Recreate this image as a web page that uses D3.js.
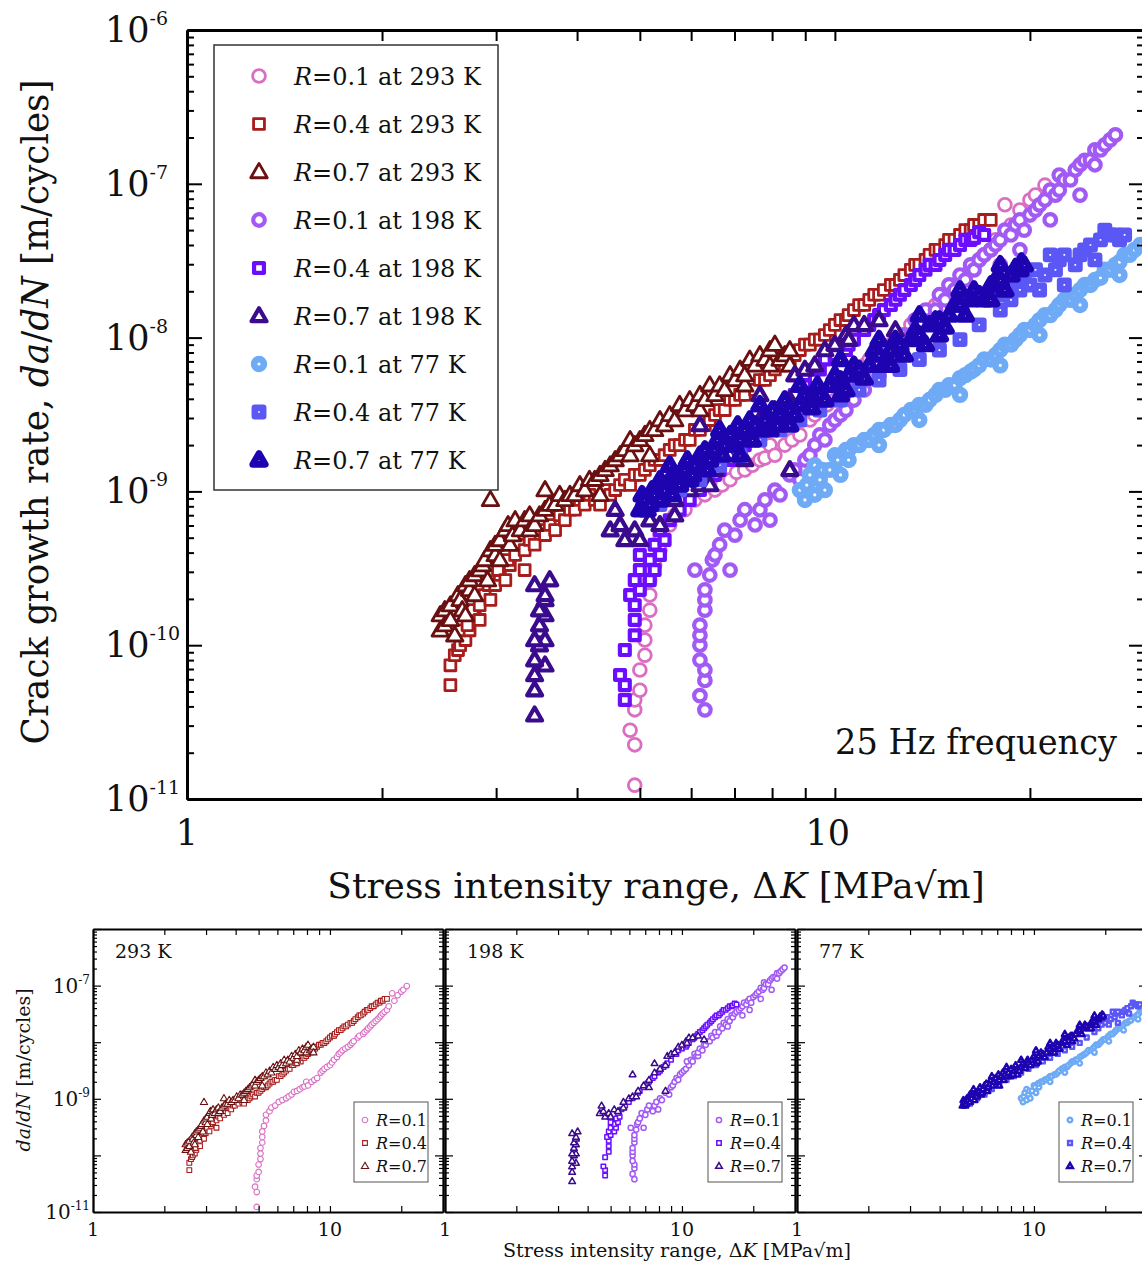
<html>
<head>
<meta charset="utf-8">
<title>Crack growth rate vs stress intensity range</title>
<style>
  body { margin: 0; background: #fff; }
  svg text { font-family: "DejaVu Serif", serif; fill: #111; }
</style>
<script src="https://d3js.org/d3.v7.min.js"></script>
</head>
<body>
<svg id="chart"></svg>
<script>
// ---- data: [stress intensity range (MPa√m), da/dN (m/cycle)] ----
const kRange = [1, 30];
const rateRange = [1e-11, 1e-6];
const kTicks = [2, 3, 4, 5, 6, 7, 8, 9, 10, 20];
const kLabels = [1, 10];
const rateDecades = [-11, -10, -9, -8, -7, -6];
const smallRateLabels = [-11, -9, -7];

const r01_293K = [[4.91,1.23e-11],[4.91,2.25e-11],[4.83,2.8e-11],[4.91,3.8e-11],[4.91,4.4e-11],[5.00,5.1e-11],[5.00,6.9e-11],[5.09,8.6e-11],[5.09,1.08e-10],[5.09,1.35e-10],[5.18,1.69e-10],[5.18,2.12e-10],[5.18,2.65e-10],[5.27,3.32e-10],[5.37,4.15e-10],[5.37,5.2e-10],[5.56,6.05e-10],[5.66,7.0e-10],[5.87,7.6e-10],[6.08,8.8e-10],[6.30,9.5e-10],[6.53,1.02e-9],[6.70,1.10e-9],[6.89,1.19e-9],[7.05,1.33e-9],[7.26,1.38e-9],[7.46,1.48e-9],[7.66,1.60e-9],[7.80,1.65e-9],[7.94,2.0e-9],[8.08,1.72e-9],[8.37,2.0e-9],[8.59,2.16e-9],[8.83,2.33e-9],[9.15,2.91e-9],[9.31,3.14e-9],[9.48,3.38e-9],[9.72,3.65e-9],[10.0,3.93e-9],[10.2,4.4e-9],[10.4,4.9e-9],[10.7,5.45e-9],[10.9,6.2e-9],[11.1,6.6e-9],[11.3,7.2e-9],[11.6,7.7e-9],[11.9,8.3e-9],[12.2,9.0e-9],[12.4,9.7e-9],[12.6,1.04e-8],[13.1,1.21e-8],[13.3,1.30e-8],[13.8,1.40e-8],[14.0,1.51e-8],[14.3,1.63e-8],[14.5,1.76e-8],[14.8,1.9e-8],[15.0,2.04e-8],[15.3,2.2e-8],[15.6,2.37e-8],[15.9,2.55e-8],[16.2,2.76e-8],[16.4,2.97e-8],[16.7,3.2e-8],[17.0,3.45e-8],[17.4,3.72e-8],[17.7,4.32e-8],[18.7,5.4e-8],[18.3,7.3e-8],[19.3,6.75e-8],[20.0,7.85e-8],[20.4,8.45e-8],[21.1,9.8e-8]];

const r04_293K = [[2.55,5.5e-11],[2.55,7.4e-11],[2.59,8.6e-11],[2.62,9.3e-11],[2.64,1.0e-10],[2.69,1.08e-10],[2.64,1.25e-10],[2.73,1.25e-10],[2.71,1.35e-10],[2.78,1.57e-10],[2.76,1.69e-10],[2.83,1.46e-10],[2.83,1.82e-10],[2.88,2.12e-10],[2.94,1.97e-10],[2.92,2.46e-10],[2.99,2.46e-10],[3.04,2.86e-10],[3.02,3.08e-10],[3.10,2.65e-10],[3.15,3.32e-10],[3.13,3.58e-10],[3.21,3.86e-10],[3.25,4.5e-10],[3.32,3.08e-10],[3.32,4.15e-10],[3.38,4.83e-10],[3.44,4.5e-10],[3.50,5.6e-10],[3.57,5.2e-10],[3.63,6.05e-10],[3.70,5.6e-10],[3.76,7.0e-10],[3.83,6.5e-10],[3.90,7.6e-10],[3.97,7.6e-10],[4.04,8.8e-10],[4.11,8.2e-10],[4.18,9.5e-10],[4.26,8.8e-10],[4.34,8.2e-10],[4.42,1.02e-9],[4.50,9.5e-10],[4.58,1.02e-9],[4.66,1.10e-9],[4.74,1.19e-9],[4.83,1.10e-9],[4.91,1.28e-9],[5.00,1.28e-9],[5.09,1.38e-9],[5.18,1.48e-9],[5.27,1.60e-9],[5.37,1.60e-9],[5.46,1.72e-9],[5.56,1.86e-9],[5.66,2.0e-9],[5.76,2.0e-9],[5.87,2.16e-9],[5.97,2.16e-9],[6.08,2.51e-9],[6.19,2.51e-9],[6.30,2.70e-9],[6.41,2.91e-9],[6.53,3.14e-9],[6.64,3.38e-9],[6.76,3.38e-9],[6.89,3.93e-9],[7.01,3.93e-9],[7.14,4.24e-9],[7.26,4.24e-9],[7.39,4.9e-9],[7.53,4.57e-9],[7.66,5.3e-9],[7.80,5.3e-9],[7.94,5.7e-9],[8.08,6.2e-9],[8.23,6.6e-9],[8.37,6.6e-9],[8.52,7.2e-9],[8.67,7.7e-9],[8.83,8.3e-9],[8.99,9.0e-9],[9.15,9.0e-9],[9.31,9.7e-9],[9.48,9.7e-9],[9.65,1.04e-8],[9.82,1.12e-8],[10.0,1.21e-8],[10.2,1.30e-8],[10.4,1.30e-8],[10.5,1.40e-8],[10.7,1.51e-8],[10.9,1.63e-8],[11.1,1.63e-8],[11.3,1.76e-8],[11.5,1.9e-8],[11.7,1.9e-8],[11.9,2.04e-8],[12.2,2.2e-8],[12.4,2.2e-8],[12.6,2.37e-8],[12.8,2.55e-8],[13.1,2.76e-8],[13.3,2.97e-8],[13.5,2.97e-8],[13.8,3.2e-8],[14.0,3.45e-8],[14.3,3.72e-8],[14.5,3.72e-8],[14.8,4.0e-8],[15.0,4.32e-8],[15.3,4.32e-8],[15.6,4.65e-8],[15.9,5.0e-8],[16.2,5.0e-8],[16.4,5.4e-8],[16.7,5.4e-8],[17.0,5.82e-8],[17.4,5.82e-8]];

const r07_293K = [[2.46,1.25e-10],[2.46,1.57e-10],[2.50,1.35e-10],[2.50,1.69e-10],[2.55,1.46e-10],[2.55,1.82e-10],[2.59,1.16e-10],[2.62,2.12e-10],[2.64,1.97e-10],[2.66,1.69e-10],[2.69,1.57e-10],[2.69,2.46e-10],[2.73,2.29e-10],[2.73,2.65e-10],[2.78,2.12e-10],[2.78,2.86e-10],[2.83,3.08e-10],[2.86,3.32e-10],[2.88,3.58e-10],[2.91,2.65e-10],[2.94,4.15e-10],[2.94,8.8e-10],[2.99,3.86e-10],[2.99,4.5e-10],[3.04,3.58e-10],[3.04,4.83e-10],[3.10,5.6e-10],[3.13,6.05e-10],[3.15,4.5e-10],[3.18,5.2e-10],[3.21,6.5e-10],[3.27,5.6e-10],[3.32,6.5e-10],[3.38,7.0e-10],[3.38,5.6e-10],[3.44,6.05e-10],[3.50,7.0e-10],[3.57,1.02e-9],[3.57,7.6e-10],[3.63,8.2e-10],[3.70,8.2e-10],[3.76,9.5e-10],[3.83,8.8e-10],[3.90,9.5e-10],[3.97,9.5e-10],[4.04,1.10e-9],[4.11,1.02e-9],[4.18,1.19e-9],[4.26,1.19e-9],[4.34,9.5e-10],[4.34,1.28e-9],[4.42,1.38e-9],[4.50,1.48e-9],[4.58,1.60e-9],[4.66,1.72e-9],[4.74,1.86e-9],[4.83,1.72e-9],[4.83,2.16e-9],[4.91,2.0e-9],[5.00,2.16e-9],[5.09,2.33e-9],[5.18,1.72e-9],[5.18,2.51e-9],[5.27,2.51e-9],[5.37,2.91e-9],[5.46,2.70e-9],[5.56,3.14e-9],[5.66,2.91e-9],[5.76,3.65e-9],[5.87,3.38e-9],[5.97,3.93e-9],[6.08,3.65e-9],[6.19,3.38e-9],[6.19,4.24e-9],[6.30,3.93e-9],[6.41,4.9e-9],[6.53,4.24e-9],[6.64,4.9e-9],[6.76,4.57e-9],[6.89,5.7e-9],[7.01,5.3e-9],[7.14,6.2e-9],[7.26,4.9e-9],[7.26,5.7e-9],[7.39,7.2e-9],[7.53,6.6e-9],[7.66,7.7e-9],[7.80,7.2e-9],[7.94,8.3e-9],[7.94,6.6e-9],[8.08,9.0e-9],[8.23,7.2e-9],[8.37,7.7e-9],[8.52,8.3e-9],[8.52,6.6e-9]];

const r01_198K = [[6.30,3.8e-11],[6.19,4.7e-11],[6.30,5.9e-11],[6.30,6.9e-11],[6.19,8.0e-11],[6.19,1.0e-10],[6.19,1.16e-10],[6.19,1.35e-10],[6.30,1.69e-10],[6.30,1.97e-10],[6.30,2.29e-10],[6.08,3.08e-10],[6.41,2.86e-10],[6.89,3.08e-10],[6.47,3.58e-10],[6.53,3.86e-10],[6.64,4.5e-10],[6.76,5.6e-10],[7.01,5.2e-10],[7.14,6.5e-10],[7.53,6.05e-10],[7.26,7.6e-10],[7.66,7.6e-10],[7.94,6.5e-10],[7.80,8.8e-10],[8.08,1.02e-9],[8.23,9.5e-10],[8.52,1.28e-9],[8.67,1.38e-9],[8.83,1.19e-9],[8.99,1.60e-9],[9.15,1.72e-9],[9.31,2.0e-9],[9.48,2.33e-9],[9.65,2.16e-9],[9.82,2.70e-9],[10.0,2.91e-9],[10.2,3.14e-9],[10.4,3.38e-9],[10.7,3.93e-9],[10.5,4.57e-9],[10.9,4.9e-9],[11.1,4.57e-9],[11.3,6.2e-9],[11.5,5.7e-9],[11.7,5.7e-9],[11.7,6.6e-9],[11.9,7.7e-9],[12.2,7.2e-9],[12.4,9.0e-9],[12.6,9.0e-9],[12.8,1.04e-8],[13.1,1.04e-8],[13.3,1.30e-8],[13.5,1.21e-8],[14.0,1.30e-8],[13.8,1.51e-8],[14.3,1.51e-8],[14.5,1.9e-8],[14.8,1.76e-8],[15.0,2.2e-8],[15.3,2.04e-8],[15.6,1.9e-8],[15.6,2.55e-8],[15.9,2.37e-8],[16.2,2.97e-8],[16.4,2.76e-8],[16.7,3.2e-8],[17.0,3.45e-8],[17.4,3.72e-8],[17.7,4.0e-8],[18.0,2.97e-8],[18.0,4.32e-8],[18.3,5.0e-8],[18.7,4.65e-8],[19.0,5.4e-8],[19.3,3.72e-8],[19.3,5.82e-8],[19.6,5.0e-8],[20.0,6.27e-8],[20.4,6.75e-8],[20.7,7.3e-8],[21.1,7.85e-8],[21.5,5.82e-8],[21.5,9.1e-8],[21.9,8.45e-8],[22.2,9.1e-8],[22.2,1.14e-7],[22.6,1.06e-7],[23.1,1.06e-7],[23.5,1.23e-7],[23.9,8.45e-8],[23.9,1.33e-7],[24.3,1.42e-7],[24.8,1.43e-7],[25.2,1.33e-7],[25.2,1.66e-7],[25.7,1.66e-7],[26.1,1.79e-7],[26.6,1.93e-7],[27.1,2.08e-7]];

const r04_198K = [[4.74,4.4e-11],[4.74,5.5e-11],[4.66,6.4e-11],[4.74,9.3e-11],[4.91,1.16e-10],[4.91,1.46e-10],[4.91,1.82e-10],[4.83,2.12e-10],[5.00,2.29e-10],[4.91,2.65e-10],[5.00,3.08e-10],[5.18,2.65e-10],[5.27,3.08e-10],[5.18,3.58e-10],[5.37,3.86e-10],[5.00,3.86e-10],[5.27,4.5e-10],[5.46,4.83e-10],[5.37,5.6e-10],[5.56,6.5e-10],[5.76,7.6e-10],[5.97,8.8e-10],[6.19,1.02e-9],[6.53,1.28e-9],[6.64,1.38e-9],[6.89,1.60e-9],[7.14,1.86e-9],[7.26,2.0e-9],[7.53,2.33e-9],[7.66,2.51e-9],[7.94,2.91e-9],[8.08,3.14e-9],[8.37,3.65e-9],[8.52,3.93e-9],[8.67,4.24e-9],[8.99,4.9e-9],[8.99,5.7e-9],[9.31,6.2e-9],[9.48,6.2e-9],[9.65,7.2e-9],[10.0,7.7e-9],[10.4,8.3e-9],[10.5,9.0e-9],[10.7,9.7e-9],[11.1,1.12e-8],[11.3,1.21e-8],[11.5,1.30e-8],[11.7,1.40e-8],[11.9,1.51e-8],[12.2,1.63e-8],[12.4,1.76e-8],[12.6,1.9e-8],[12.8,2.04e-8],[13.1,2.2e-8],[13.3,2.37e-8],[13.5,2.55e-8],[13.8,2.76e-8],[14.0,2.97e-8],[14.3,2.97e-8],[14.5,3.2e-8],[14.8,3.45e-8],[15.0,3.72e-8],[15.3,3.72e-8],[15.6,4.0e-8],[15.9,4.32e-8],[16.2,4.32e-8],[16.4,4.45e-8],[16.7,4.85e-8],[17.0,4.65e-8]];

const r07_198K = [[3.44,3.5e-11],[3.44,5.1e-11],[3.44,6.4e-11],[3.57,7.4e-11],[3.44,8.0e-11],[3.50,1.0e-10],[3.57,1.08e-10],[3.44,1.08e-10],[3.50,1.35e-10],[3.57,1.57e-10],[3.50,1.69e-10],[3.57,1.97e-10],[3.57,2.12e-10],[3.44,2.46e-10],[3.63,2.65e-10],[4.50,5.6e-10],[4.58,7.6e-10],[4.66,6.05e-10],[4.74,4.83e-10],[4.91,5.6e-10],[5.00,4.83e-10],[5.18,6.5e-10],[5.37,6.05e-10],[5.66,7.0e-10],[5.66,8.8e-10],[5.97,1.02e-9],[6.19,1.10e-9],[6.41,1.10e-9],[6.19,2.70e-9],[6.53,1.38e-9],[6.89,1.72e-9],[7.26,1.60e-9],[7.26,2.16e-9],[7.66,2.91e-9],[7.66,4.24e-9],[8.08,3.38e-9],[8.52,1.38e-9],[8.52,3.93e-9],[8.67,5.7e-9],[8.99,6.2e-9],[9.31,6.6e-9],[9.65,8.3e-9],[10.0,9.0e-9],[10.4,1.04e-8],[10.5,9.7e-9],[10.7,1.21e-8],[11.1,1.21e-8],[11.7,1.30e-8],[12.4,1.12e-8]];

const r01_77K = [[8.99,8.8e-10],[8.83,1.02e-9],[9.05,1.10e-9],[9.31,9.5e-10],[9.15,1.28e-9],[9.31,1.48e-9],[9.48,1.19e-9],[9.56,1.38e-9],[9.65,1.02e-9],[9.82,1.38e-9],[10.2,1.28e-9],[10.0,1.72e-9],[10.1,1.60e-9],[10.4,1.86e-9],[10.5,1.60e-9],[10.5,1.86e-9],[10.7,2.0e-9],[10.9,2.0e-9],[11.1,2.16e-9],[11.3,2.16e-9],[11.5,2.33e-9],[11.7,2.0e-9],[11.7,2.51e-9],[11.9,2.51e-9],[12.2,2.70e-9],[12.4,2.70e-9],[12.6,2.91e-9],[12.8,3.14e-9],[13.1,3.38e-9],[13.3,3.38e-9],[13.5,2.91e-9],[13.5,3.65e-9],[13.8,3.65e-9],[14.0,3.93e-9],[14.3,4.24e-9],[14.5,4.57e-9],[14.8,4.57e-9],[15.0,4.9e-9],[15.3,4.9e-9],[15.6,4.24e-9],[15.6,5.45e-9],[15.9,5.7e-9],[16.2,6.0e-9],[16.4,6.2e-9],[16.7,6.6e-9],[17.0,7.2e-9],[17.4,7.2e-9],[17.7,7.7e-9],[18.0,6.6e-9],[18.0,8.3e-9],[18.3,9.0e-9],[18.7,9.0e-9],[19.0,9.7e-9],[19.3,1.04e-8],[19.6,1.12e-8],[20.0,1.12e-8],[20.4,1.21e-8],[20.7,1.04e-8],[20.7,1.30e-8],[21.1,1.40e-8],[21.5,1.40e-8],[21.9,1.51e-8],[22.2,1.63e-8],[22.6,1.76e-8],[23.1,1.76e-8],[23.5,1.9e-8],[23.9,1.63e-8],[23.9,2.04e-8],[24.3,2.2e-8],[24.8,2.2e-8],[25.2,2.37e-8],[25.7,2.45e-8],[26.1,2.76e-8],[26.6,2.76e-8],[27.1,2.97e-8],[27.5,2.55e-8],[27.5,3.1e-8],[28.0,3.45e-8],[28.5,3.45e-8],[29.0,3.72e-8],[29.6,4.0e-8]];

const r04_77K = [[5.37,8.2e-10],[5.76,1.02e-9],[6.19,1.19e-9],[6.64,1.48e-9],[7.14,1.72e-9],[7.66,2.16e-9],[8.23,2.51e-9],[8.83,2.91e-9],[9.48,3.38e-9],[10.2,3.93e-9],[10.9,4.57e-9],[11.7,5.3e-9],[12.6,6.2e-9],[13.5,7.2e-9],[14.5,8.3e-9],[15.6,9.7e-9],[16.7,1.21e-8],[18.0,1.51e-8],[18.0,1.9e-8],[18.7,1.76e-8],[18.7,2.04e-8],[19.0,2.55e-8],[19.3,2.04e-8],[19.6,2.37e-8],[20.0,2.2e-8],[20.4,2.76e-8],[20.7,2.04e-8],[21.1,2.55e-8],[21.5,3.45e-8],[21.9,2.76e-8],[22.2,3.2e-8],[22.6,2.2e-8],[22.6,3.45e-8],[23.5,2.97e-8],[23.9,3.45e-8],[24.3,3.72e-8],[24.8,4.0e-8],[25.2,3.2e-8],[25.7,4.32e-8],[26.1,5.0e-8],[26.6,4.65e-8],[27.1,4.65e-8],[27.5,4.32e-8],[28.0,4.65e-8]];

const r07_77K = [[5.00,7.6e-10],[5.04,9.5e-10],[5.09,8.8e-10],[5.13,7.6e-10],[5.18,8.2e-10],[5.22,1.02e-9],[5.27,9.5e-10],[5.37,8.8e-10],[5.37,1.19e-9],[5.41,1.10e-9],[5.46,1.02e-9],[5.56,1.19e-9],[5.56,1.48e-9],[5.61,9.5e-10],[5.71,1.28e-9],[5.76,1.10e-9],[5.87,1.38e-9],[5.92,1.60e-9],[5.97,1.19e-9],[6.03,1.28e-9],[6.08,1.48e-9],[6.19,1.72e-9],[6.30,1.86e-9],[6.36,1.38e-9],[6.41,1.60e-9],[6.53,1.86e-9],[6.58,2.16e-9],[6.64,2.51e-9],[6.70,1.72e-9],[6.76,2.0e-9],[6.89,2.33e-9],[7.01,2.0e-9],[7.08,2.70e-9],[7.14,2.16e-9],[7.14,1.72e-9],[7.26,2.51e-9],[7.39,2.91e-9],[7.46,2.16e-9],[7.53,2.70e-9],[7.66,3.65e-9],[7.73,2.51e-9],[7.80,2.91e-9],[7.94,2.51e-9],[8.01,3.38e-9],[8.16,2.70e-9],[8.23,3.14e-9],[8.37,3.93e-9],[8.52,3.38e-9],[8.52,2.70e-9],[8.67,3.14e-9],[8.83,3.65e-9],[8.83,4.9e-9],[8.99,4.24e-9],[9.15,3.93e-9],[9.21,3.5e-9],[9.40,4.9e-9],[9.48,4.24e-9],[9.65,3.93e-9],[9.82,4.9e-9],[10.0,5.7e-9],[10.2,5.3e-9],[10.2,7.2e-9],[10.2,4.24e-9],[10.4,4.57e-9],[10.5,5.7e-9],[10.7,6.6e-9],[10.9,6.2e-9],[11.1,5.45e-9],[11.3,6.6e-9],[11.5,8.3e-9],[11.7,7.7e-9],[11.7,9.7e-9],[11.9,6.6e-9],[12.2,8.3e-9],[12.2,6.6e-9],[12.4,9.7e-9],[12.6,9.0e-9],[12.8,7.7e-9],[13.1,9.7e-9],[13.3,1.12e-8],[13.5,1.04e-8],[13.5,1.40e-8],[13.8,9.0e-9],[14.0,1.21e-8],[14.3,1.30e-8],[14.5,1.30e-8],[14.5,1.04e-8],[14.8,1.17e-8],[15.0,1.40e-8],[15.3,1.63e-8],[15.6,1.63e-8],[15.6,2.04e-8],[15.9,1.40e-8],[16.2,1.76e-8],[16.4,2.04e-8],[16.7,1.9e-8],[17.0,1.76e-8],[17.4,2.2e-8],[17.4,1.76e-8],[17.7,2.37e-8],[18.0,2.37e-8],[18.0,2.97e-8],[18.3,2.04e-8],[18.7,2.55e-8],[19.0,2.85e-8],[19.3,2.76e-8],[19.4,3.1e-8],[19.6,2.97e-8]];

// series in drawing order (same as the legend)
const seriesList = [
  { R: '0.1', T: '293 K', data: r01_293K, shape: 'circle',   color: '#da6ec2' },
  { R: '0.4', T: '293 K', data: r04_293K, shape: 'square',   color: '#a81c1c' },
  { R: '0.7', T: '293 K', data: r07_293K, shape: 'triangle', color: '#6a1010' },
  { R: '0.1', T: '198 K', data: r01_198K, shape: 'circle',   color: '#a25af5' },
  { R: '0.4', T: '198 K', data: r04_198K, shape: 'square',   color: '#6b0dff' },
  { R: '0.7', T: '198 K', data: r07_198K, shape: 'triangle', color: '#3b0b8e' },
  { R: '0.1', T: '77 K',  data: r01_77K,  shape: 'circle',   color: '#6eaaf5' },
  { R: '0.4', T: '77 K',  data: r04_77K,  shape: 'square',   color: '#5b57f5' },
  { R: '0.7', T: '77 K',  data: r07_77K,  shape: 'triangle', color: '#1e04b0' }
];
const temps = ['293 K', '198 K', '77 K'];

// marker size / stroke by temperature (main plot, small panels)
const markerStyle = {
  '293 K': { main: { size: 6.4, sw: 2.8 }, small: { size: 2.8, sw: 1.1 } },
  '198 K': { main: { size: 5.8, sw: 4.2 }, small: { size: 2.6, sw: 1.5 } },
  '77 K':  { main: { size: 4.9, sw: 6.6 }, small: { size: 2.3, sw: 2.4 } }
};

const W = 1142, H = 1267;
const svg = d3.select('#chart').attr('width', W).attr('height', H);

// marker outline centred at 0,0
function shapePath(shape, s) {
  const p = d3.path();
  if (shape === 'circle') {
    p.moveTo(s, 0); p.arc(0, 0, s, 0, 2 * Math.PI);
  } else if (shape === 'square') {
    let h = s * 0.85;
    p.rect(-h, -h, 2 * h, 2 * h);
  } else {
    let t = s * 1.12;
    p.moveTo(0, -t * 1.2); p.lineTo(t * 1.15, t * 0.8); p.lineTo(-t * 1.15, t * 0.8); p.closePath();
  }
  return p.toString();
}

function drawSeries(g, s, xs, ys, st) {
  g.append('g').selectAll('path').data(s.data).join('path')
    .attr('d', shapePath(s.shape, st.size))
    .attr('transform', d => `translate(${xs(d[0])},${ys(d[1])})`)
    .attr('fill', '#fff')
    .attr('stroke', s.color)
    .attr('stroke-width', st.sw)
    .attr('stroke-linejoin', 'round');
}

function minorRates() {
  let out = [];
  rateDecades.slice(0, -1).forEach(e => {
    for (let k = 2; k <= 9; k++) out.push(k * Math.pow(10, e));
  });
  return out;
}

// frame with inward ticks on all four sides
function drawFrame(g, xs, ys, o) {
  const [x0, x1] = xs.range();
  const [y0, y1] = ys.range();
  const majors = rateDecades.map(e => Math.pow(10, e));
  let axes = [
    g.append('g').attr('transform', `translate(0,${y0})`)
      .call(d3.axisBottom(xs).tickValues(kTicks).tickSize(-o.xt).tickSizeOuter(0).tickFormat('')),
    g.append('g').attr('transform', `translate(0,${y1})`)
      .call(d3.axisTop(xs).tickValues(kTicks).tickSize(-o.xt).tickSizeOuter(0).tickFormat('')),
    g.append('g').attr('transform', `translate(${x0},0)`)
      .call(d3.axisLeft(ys).tickValues(majors).tickSize(-o.major).tickSizeOuter(0).tickFormat('')),
    g.append('g').attr('transform', `translate(${x1},0)`)
      .call(d3.axisRight(ys).tickValues(majors).tickSize(-o.major).tickSizeOuter(0).tickFormat('')),
    g.append('g').attr('transform', `translate(${x0},0)`)
      .call(d3.axisLeft(ys).tickValues(minorRates()).tickSize(-o.minor).tickSizeOuter(0).tickFormat('')),
    g.append('g').attr('transform', `translate(${x1},0)`)
      .call(d3.axisRight(ys).tickValues(minorRates()).tickSize(-o.minor).tickSizeOuter(0).tickFormat(''))
  ];
  axes.forEach(a => {
    a.selectAll('path.domain').attr('stroke', '#000').attr('stroke-width', o.lw);
    a.selectAll('.tick line').attr('stroke', '#000').attr('stroke-width', o.tw);
  });
}

function powerLabel(g, xPos, yPos, e, big, small, lift, anchor) {
  let t = g.append('text').attr('x', xPos).attr('y', yPos)
    .attr('text-anchor', anchor).style('font-size', big + 'px');
  t.append('tspan').text('10');
  t.append('tspan').attr('dy', -lift).style('font-size', small + 'px').text(e);
}

// ---------------- main plot ----------------
const x = d3.scaleLog().domain(kRange).range([187, 1144]);
const y = d3.scaleLog().domain(rateRange).range([799, 30]);
const mainG = svg.append('g');

seriesList.forEach(s => drawSeries(mainG, s, x, y, markerStyle[s.T].main));
drawFrame(mainG, x, y, { xt: 11, major: 15, minor: 7, lw: 3, tw: 2 });

rateDecades.forEach(e => powerLabel(mainG, 105, y(Math.pow(10, e)) + 12, e, 35, 19, 17, 'start'));
kLabels.forEach(v => {
  mainG.append('text').attr('x', x(v) - (v === 10 ? 7 : 0)).attr('y', 845)
    .attr('text-anchor', 'middle').style('font-size', '35px').text(v);
});

// axis titles
let xt = mainG.append('text').attr('x', 656).attr('y', 898).attr('text-anchor', 'middle')
  .style('font-size', '36px');
xt.append('tspan').text('Stress intensity range, Δ');
xt.append('tspan').attr('dx', 2).style('font-style', 'italic').text('K');
xt.append('tspan').text(' [MPa√m]');

let yt = mainG.append('text').attr('transform', 'translate(48,412) rotate(-90)')
  .attr('text-anchor', 'middle').attr('textLength', 665).attr('lengthAdjust', 'spacingAndGlyphs')
  .style('font-size', '38px');
yt.append('tspan').text('Crack growth rate, ');
yt.append('tspan').style('font-style', 'italic').text('da');
yt.append('tspan').text('/');
yt.append('tspan').style('font-style', 'italic').text('dN');
yt.append('tspan').text(' [m/cycles]');

mainG.append('text').attr('x', 1117).attr('y', 754).attr('text-anchor', 'end')
  .attr('textLength', 282).attr('lengthAdjust', 'spacingAndGlyphs')
  .style('font-size', '36px').text('25 Hz frequency');

// legend
const legend = mainG.append('g');
legend.append('rect').attr('x', 214).attr('y', 45).attr('width', 284).attr('height', 445)
  .attr('fill', '#fff').attr('stroke', '#333').attr('stroke-width', 1.5);
seriesList.forEach((s, i) => {
  let cy = 76 + i * 48;
  let st = markerStyle[s.T].main;
  legend.append('path').attr('d', shapePath(s.shape, st.size))
    .attr('transform', `translate(259,${cy})`)
    .attr('fill', '#fff').attr('stroke', s.color).attr('stroke-width', st.sw)
    .attr('stroke-linejoin', 'round');
  let t = legend.append('text').attr('x', 294).attr('y', cy + 9).style('font-size', '24px');
  t.append('tspan').style('font-style', 'italic').text('R');
  t.append('tspan').text('=' + s.R + ' at ' + s.T);
});

// ---------------- small panels ----------------
const panelLefts = [93, 445, 797];
const legendLefts = [354, 708, 1059];
temps.forEach((T, p) => {
  const xs = d3.scaleLog().domain(kRange).range([panelLefts[p], panelLefts[p] + 350]);
  const ys = d3.scaleLog().domain(rateRange).range([1212, 929]);
  const g = svg.append('g');
  const list = seriesList.filter(s => s.T === T);
  list.forEach(s => drawSeries(g, s, xs, ys, markerStyle[T].small));
  drawFrame(g, xs, ys, { xt: 6, major: 8, minor: 4, lw: 1.8, tw: 1.2 });

  kLabels.forEach(v => {
    g.append('text').attr('x', xs(v)).attr('y', 1236).attr('text-anchor', 'middle')
      .style('font-size', '19px').text(v);
  });
  g.append('text').attr('x', panelLefts[p] + 22).attr('y', 958).style('font-size', '19px').text(T);

  // legend box
  const lx = legendLefts[p];
  g.append('rect').attr('x', lx).attr('y', 1102).attr('width', 74).attr('height', 80)
    .attr('fill', '#fff').attr('stroke', '#555').attr('stroke-width', 1);
  list.forEach((s, i) => {
    let cy = 1120 + i * 23;
    let st = markerStyle[T].small;
    g.append('path').attr('d', shapePath(s.shape, st.size))
      .attr('transform', `translate(${lx + 11},${cy})`)
      .attr('fill', '#fff').attr('stroke', s.color).attr('stroke-width', st.sw);
    let t = g.append('text').attr('x', lx + 22).attr('y', cy + 6).style('font-size', '16px');
    t.append('tspan').style('font-style', 'italic').text('R');
    t.append('tspan').text('=' + s.R);
  });

  if (p === 0) {
    smallRateLabels.forEach(e => powerLabel(g, 90, ys(Math.pow(10, e)) + 7, e, 20, 12, 9, 'end'));
  }
});

// shared small-panel titles
let sy = svg.append('text').attr('transform', 'translate(30,1070) rotate(-90)')
  .attr('text-anchor', 'middle').style('font-size', '19px');
sy.append('tspan').style('font-style', 'italic').text('da');
sy.append('tspan').text('/');
sy.append('tspan').style('font-style', 'italic').text('dN');
sy.append('tspan').text(' [m/cycles]');

let sx = svg.append('text').attr('x', 677).attr('y', 1257).attr('text-anchor', 'middle')
  .attr('textLength', 348).attr('lengthAdjust', 'spacingAndGlyphs').style('font-size', '19px');
sx.append('tspan').text('Stress intensity range, Δ');
sx.append('tspan').style('font-style', 'italic').text('K');
sx.append('tspan').text(' [MPa√m]');
</script>
</body>
</html>
